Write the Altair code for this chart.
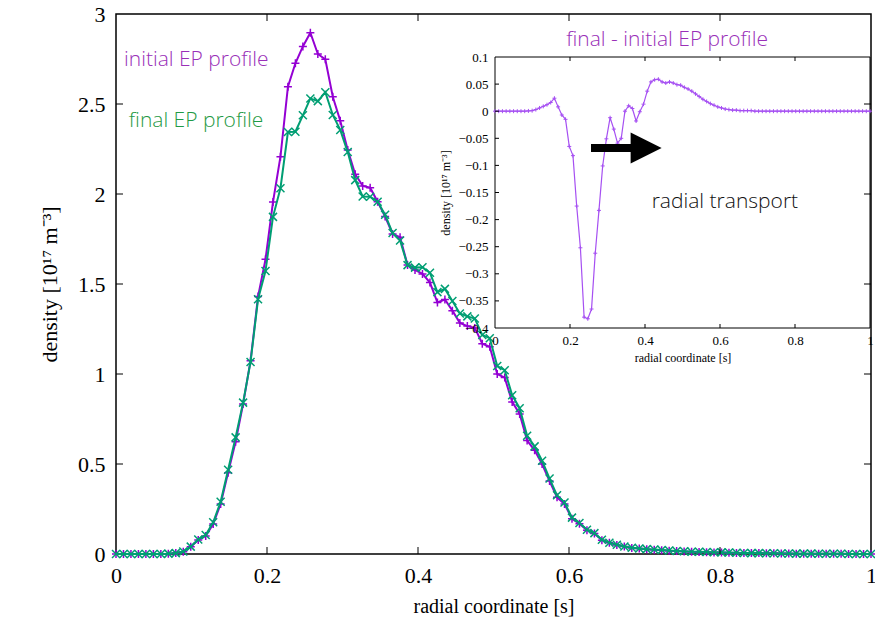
import altair as alt
import pandas as pd

# sampling grid of the radial coordinate (102 points)
s = [round(i / 101, 5) for i in range(102)]

initial = [0, 0, 0, 0, 0, 0, 0, 0.002, 0.005, 0.013,
           0.04, 0.078, 0.10, 0.167, 0.278, 0.452, 0.624, 0.833, 1.074, 1.43,
           1.637, 1.955, 2.207, 2.596, 2.726, 2.82, 2.896, 2.778, 2.748, 2.54,
           2.407, 2.245, 2.11, 2.045, 2.035, 1.957, 1.875, 1.778, 1.76, 1.606,
           1.578, 1.556, 1.508, 1.397, 1.414, 1.352, 1.284, 1.266, 1.256, 1.168,
           1.151, 1.0, 0.98, 0.845, 0.778, 0.63, 0.576, 0.5, 0.405, 0.315,
           0.278, 0.196, 0.168, 0.132, 0.114, 0.077, 0.062, 0.05, 0.041, 0.034,
           0.03, 0.026, 0.024, 0.021, 0.018, 0.016, 0.014, 0.012, 0.011, 0.01,
           0.009, 0.008, 0.007, 0.006, 0.006, 0.005, 0.005, 0.004, 0.004, 0.003,
           0.003, 0.002, 0.002, 0.002, 0.001, 0.001, 0.001, 0.001, 0, 0,
           0, 0]

final = [0, 0, 0, 0, 0, 0, 0, 0.002, 0.005, 0.0135,
         0.041, 0.081, 0.106, 0.176, 0.29, 0.468, 0.648, 0.841, 1.067, 1.415,
         1.572, 1.873, 2.032, 2.344, 2.346, 2.437, 2.531, 2.516, 2.565, 2.439,
         2.356, 2.233, 2.077, 1.986, 1.985, 1.957, 1.885, 1.783, 1.742, 1.605,
         1.591, 1.593, 1.562, 1.455, 1.473, 1.406, 1.336, 1.32, 1.308, 1.217,
         1.199, 1.044, 1.021, 0.882, 0.81, 0.657, 0.598, 0.518, 0.419, 0.326,
         0.286, 0.202, 0.172, 0.135, 0.116, 0.079, 0.063, 0.051, 0.042, 0.035,
         0.031, 0.027, 0.025, 0.022, 0.019, 0.017, 0.015, 0.013, 0.012, 0.011,
         0.010, 0.009, 0.008, 0.007, 0.006, 0.005, 0.005, 0.004, 0.004, 0.003,
         0.003, 0.002, 0.002, 0.002, 0.001, 0.001, 0.001, 0.001, 0, 0,
         0, 0]

diff = [0, 0, 0, 0, 0, 0, 0, 0, 0, 0.0005,
        0.001, 0.003, 0.006, 0.009, 0.012, 0.016, 0.024, 0.008, -0.007, -0.015,
        -0.065, -0.082, -0.175, -0.252, -0.38, -0.383, -0.365, -0.262, -0.183, -0.101,
        -0.051, -0.012, -0.033, -0.059, -0.05, 0.0, 0.01, 0.005, -0.018, -0.001,
        0.013, 0.037, 0.054, 0.058, 0.059, 0.054, 0.052, 0.054, 0.052, 0.049,
        0.048, 0.044, 0.041, 0.037, 0.032, 0.027, 0.022, 0.018, 0.014, 0.011,
        0.008, 0.006, 0.004, 0.003, 0.002, 0.002, 0.001, 0.001, 0.001, 0.001,
        0, 0, 0, 0, 0, 0, 0, 0, 0, 0,
        0, 0, 0, 0, 0, 0, 0, 0, 0, 0,
        0, 0, 0, 0, 0, 0, 0, 0, 0, 0,
        0, 0]

x_ticks = [0, 0.2, 0.4, 0.6, 0.8, 1]
y_ticks = [0, 0.5, 1, 1.5, 2, 2.5, 3]
x_inner = [0.2, 0.4, 0.6, 0.8]
y_inner = [0.5, 1, 1.5, 2, 2.5]
ix_ticks = [0, 0.2, 0.4, 0.6, 0.8, 1]
iy_ticks = [-0.4, -0.35, -0.3, -0.25, -0.2, -0.15, -0.1, -0.05, 0, 0.05, 0.1]

PURPLE = "#9400d3"
GREEN = "#009e73"
INSET = "#a650f2"
TXT_PURPLE = "#9a30b8"
TXT_GREEN = "#1f9a45"
SERIF = "Liberation Serif"
SANS = "Open Sans"
PLUS = "M-1,0L1,0M0,-1L0,1"
CROSS = "M-1,-1L1,1M-1,1L1,-1"

W, H = 755, 540

df = pd.DataFrame({"s": s, "initial": initial, "final": final, "diff": diff})
xt = pd.DataFrame({"t": x_inner})
yt = pd.DataFrame({"t": y_inner})
iyt = pd.DataFrame({"t": iy_ticks[1:-1]})
one = pd.DataFrame({"k": [0]})

xs = alt.Scale(domain=[0, 1], nice=False, zero=False)
ys = alt.Scale(domain=[0, 3], nice=False, zero=False)
ixs = alt.Scale(domain=[0, 1], range=[379, 754], nice=False, zero=False)
iys = alt.Scale(domain=[-0.4, 0.1], range=[314, 43], nice=False, zero=False)

xaxis = alt.Axis(orient="bottom", values=x_ticks, format="~g", ticks=False, domain=False,
                 grid=False, labelFont=SERIF, labelFontSize=22, labelPadding=11,
                 labelColor="black", labelFlush=False, zindex=2,
                 title="radial coordinate [s]", titleFont=SERIF, titleFontSize=20,
                 titleFontWeight="normal", titleColor="black", titlePadding=10)
yaxis = alt.Axis(orient="left", values=y_ticks, format="~g", ticks=False, domain=False,
                 grid=False, labelFont=SERIF, labelFontSize=22, labelPadding=11,
                 labelColor="black", labelFlush=False, zindex=2,
                 title="density [10¹⁷ m⁻³]", titleFont=SERIF, titleFontSize=22,
                 titleFontWeight="normal", titleColor="black", titlePadding=16)
ixaxis = alt.Axis(orient="bottom", offset=-226, values=ix_ticks, format="~g", ticks=False,
                  domain=False, grid=False, labelFont=SERIF, labelFontSize=13,
                  labelPadding=6, labelColor="black", labelFlush=False, zindex=2,
                  title="radial coordinate [s]", titleFont=SERIF, titleFontSize=12,
                  titleFontWeight="normal", titleColor="black", titlePadding=5)
iyaxis = alt.Axis(orient="left", offset=-379, values=iy_ticks, format="~g", ticks=False,
                  domain=False, grid=False, labelFont=SERIF, labelFontSize=13,
                  labelPadding=7, labelColor="black", labelFlush=False, zindex=2,
                  title="density [10¹⁷ m⁻³]", titleFont=SERIF, titleFontSize=12,
                  titleFontWeight="normal", titleColor="black", titlePadding=5)

base = alt.Chart(df)

# ---- main plot layers ----
init_line = base.mark_line(color=PURPLE, strokeWidth=2).encode(
    x=alt.X("s:Q", scale=xs, axis=xaxis), y=alt.Y("initial:Q", scale=ys, axis=yaxis))
init_pts = base.mark_point(shape=PLUS, size=64, color=PURPLE, strokeWidth=1.5,
                           filled=False, opacity=1).encode(
    x=alt.X("s:Q", scale=xs, axis=None), y=alt.Y("initial:Q", scale=ys, axis=None))
fin_line = base.mark_line(color=GREEN, strokeWidth=2).encode(
    x=alt.X("s:Q", scale=xs, axis=None), y=alt.Y("final:Q", scale=ys, axis=None))
fin_pts = base.mark_point(shape=CROSS, size=64, color=GREEN, strokeWidth=1.5,
                          filled=False, opacity=1).encode(
    x=alt.X("s:Q", scale=xs, axis=None), y=alt.Y("final:Q", scale=ys, axis=None))

tick_bottom = alt.Chart(xt).mark_rule(color="black", strokeWidth=1).encode(
    x=alt.X("t:Q", scale=xs, axis=None), y=alt.value(H), y2=alt.value(H - 7))
tick_top = alt.Chart(xt).mark_rule(color="black", strokeWidth=1).encode(
    x=alt.X("t:Q", scale=xs, axis=None), y=alt.value(0), y2=alt.value(7))
tick_left = alt.Chart(yt).mark_rule(color="black", strokeWidth=1).encode(
    y=alt.Y("t:Q", scale=ys, axis=None), x=alt.value(0), x2=alt.value(7))
tick_right = alt.Chart(yt).mark_rule(color="black", strokeWidth=1).encode(
    y=alt.Y("t:Q", scale=ys, axis=None), x=alt.value(W), x2=alt.value(W - 7))

lab_init = alt.Chart(one).mark_text(text="initial EP profile", font=SANS, fontSize=21,
                                    fontWeight=300, color=TXT_PURPLE, align="left",
                                    baseline="middle").encode(
    x=alt.X(datum=0.0106, scale=xs, axis=None), y=alt.Y(datum=2.744, scale=ys, axis=None))
lab_fin = alt.Chart(one).mark_text(text="final EP profile", font=SANS, fontSize=21,
                                   fontWeight=300, color=TXT_GREEN, align="left",
                                   baseline="middle").encode(
    x=alt.X(datum=0.017, scale=xs, axis=None), y=alt.Y(datum=2.406, scale=ys, axis=None))

# ---- inset layers ----
frame = alt.Chart(one).mark_rect(fillOpacity=0, stroke="black", strokeWidth=1).encode(
    x=alt.X(datum=0, scale=ixs, axis=None), x2=alt.X2(datum=1),
    y=alt.Y(datum=-0.4, scale=iys, axis=None), y2=alt.Y2(datum=0.1))

inset_line = base.mark_line(color=INSET, strokeWidth=1.2).encode(
    x=alt.X("s:Q", scale=ixs, axis=ixaxis), y=alt.Y("diff:Q", scale=iys, axis=iyaxis))
inset_pts = base.mark_point(shape=PLUS, size=16, color=INSET, strokeWidth=1,
                            filled=False, opacity=1).encode(
    x=alt.X("s:Q", scale=ixs, axis=None), y=alt.Y("diff:Q", scale=iys, axis=None))

itick_b = alt.Chart(xt).mark_rule(color="black", strokeWidth=1, y2Offset=-4).encode(
    x=alt.X("t:Q", scale=ixs, axis=None), y=alt.Y(datum=-0.4, scale=iys, axis=None),
    y2=alt.Y2(datum=-0.4))
itick_t = alt.Chart(xt).mark_rule(color="black", strokeWidth=1, y2Offset=4).encode(
    x=alt.X("t:Q", scale=ixs, axis=None), y=alt.Y(datum=0.1, scale=iys, axis=None),
    y2=alt.Y2(datum=0.1))
itick_l = alt.Chart(iyt).mark_rule(color="black", strokeWidth=1, x2Offset=4).encode(
    y=alt.Y("t:Q", scale=iys, axis=None), x=alt.X(datum=0, scale=ixs, axis=None),
    x2=alt.X2(datum=0))

arrow_shaft = alt.Chart(one).mark_rule(color="black", strokeWidth=8, strokeCap="butt").encode(
    x=alt.X(datum=0.256, scale=ixs, axis=None), x2=alt.X2(datum=0.364),
    y=alt.Y(datum=-0.0677, scale=iys, axis=None))
arrow_head = alt.Chart(one).mark_point(shape="M-1,-1L1,0L-1,1Z", size=961, filled=True,
                                       color="black", opacity=1).encode(
    x=alt.X(datum=0.403, scale=ixs, axis=None), y=alt.Y(datum=-0.0677, scale=iys, axis=None))

ititle = alt.Chart(one).mark_text(text="final - initial EP profile", font=SANS, fontSize=21,
                                  fontWeight=300, color=TXT_PURPLE, align="center",
                                  baseline="middle").encode(
    x=alt.X(datum=0.459, scale=ixs, axis=None), y=alt.Y(datum=0.131, scale=iys, axis=None))
itext = alt.Chart(one).mark_text(text="radial transport", font=SANS, fontSize=21,
                                 fontWeight=300, color="#111111", align="center",
                                 baseline="middle").encode(
    x=alt.X(datum=0.613, scale=ixs, axis=None), y=alt.Y(datum=-0.168, scale=iys, axis=None))

chart = alt.layer(
    init_line, init_pts, fin_line, fin_pts,
    tick_bottom, tick_top, tick_left, tick_right, lab_init, lab_fin,
    frame, inset_line, inset_pts, itick_b, itick_t, itick_l,
    arrow_shaft, arrow_head, ititle, itext,
).resolve_scale(
    x="independent", y="independent"
).resolve_axis(
    x="independent", y="independent"
).properties(
    width=W, height=H,
    autosize=alt.AutoSizeParams(type="none"),
    padding={"left": 116, "top": 14, "right": 4, "bottom": 69},
    background="white",
).configure_view(stroke="black", strokeWidth=1.5)

chart.save("out.html", embed_options={"renderer": "svg", "actions": False})
